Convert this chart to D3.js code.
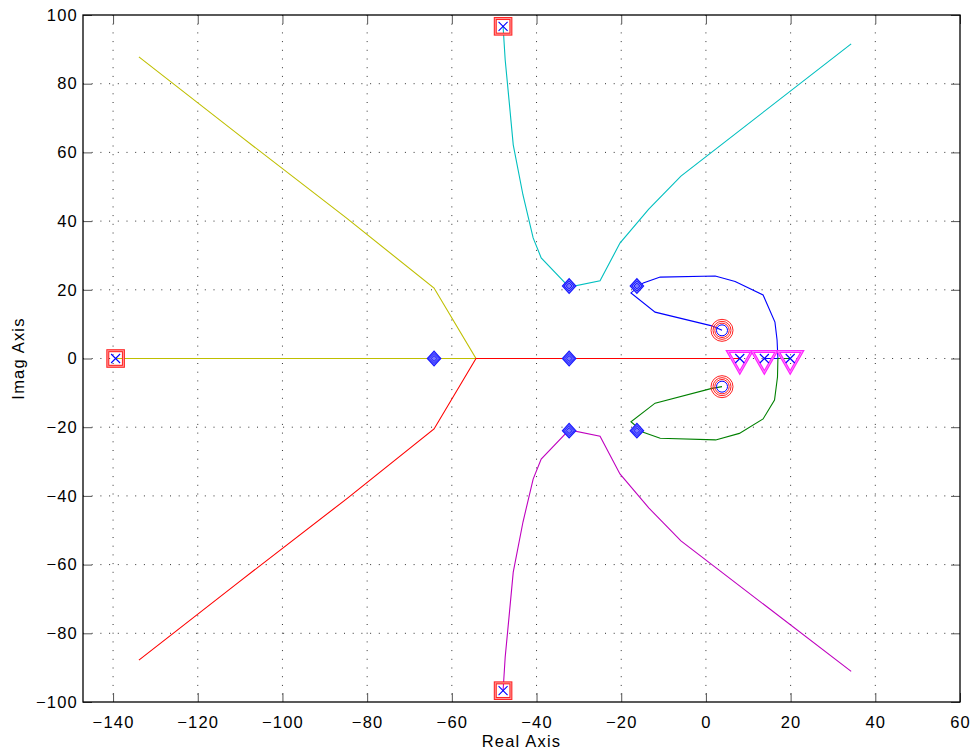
<!DOCTYPE html>
<html>
<head>
<meta charset="utf-8">
<script src="https://cdn.jsdelivr.net/npm/d3@7"></script>
<style>
    body { margin: 0; background: #fff; }
    .tick-label { font-family: "Liberation Sans", Arial, sans-serif; font-size: 16.5px; letter-spacing: 1.2px; fill: #000; }
    .axis-title { font-family: "Liberation Sans", Arial, sans-serif; font-size: 16.5px; letter-spacing: 1.2px; fill: #000; }
</style>
</head>
<body>
<div id="chart"></div>
<script>
// tick values
var xTicks = [-140, -120, -100, -80, -60, -40, -20, 0, 20, 40, 60];
var yTicks = [-100, -80, -60, -40, -20, 0, 20, 40, 60, 80, 100];

// open-loop poles and zeros
var poles = [[-139.4, 0], [-47.9, 96.7], [-47.9, -96.7], [8.0, 0], [13.8, 0], [19.9, 0]];
var zeros = [[3.8, 8.2], [3.8, -8.2]];
// highlighted poles (red squares / magenta triangles)
var squarePoles = [[-139.4, 0], [-47.9, 96.7], [-47.9, -96.7]];
var trianglePoles = [[8.0, 0], [13.8, 0], [19.9, 0]];
// closed-loop poles for selected gain
var closedPoles = [[-64.2, 0], [-32.3, 0], [-32.3, 21.1], [-32.3, -21.0], [-16.3, 21.1], [-16.3, -21.0]];

// locus branches
var branchYellow = [[-139.4, 0], [-54.3, 0], [-64.2, 20.5], [-85, 41], [-110, 64.8], [-133.9, 87.8]];
var branchRed = [[8.0, 0], [-54.3, 0], [-64.2, -20.5], [-85, -41], [-110, -64.8], [-133.9, -87.8]];
var branchCyan = [[-47.9, 96.7], [-47.4, 86.9], [-46.5, 75.3], [-45.5, 62.2], [-43.2, 47.6], [-40.8, 35.1],
    [-38.9, 29.3], [-32.3, 20.8], [-25.0, 22.6], [-20.3, 33.6], [-13.5, 43.5], [-5.9, 53.1], [34.3, 91.6]];
var branchMagenta = [[-47.9, -96.7], [-47.4, -86.9], [-46.5, -75.3], [-45.5, -62.2], [-43.2, -47.6], [-40.8, -35.1],
    [-38.9, -29.3], [-32.3, -20.8], [-25.0, -22.6], [-20.3, -33.6], [-13.5, -43.5], [-5.9, -53.1], [34.3, -91.1]];
var branchBlue = [[13.8, 0], [17.0, 0], [16.8, 5.4], [16.3, 10.6], [13.5, 18.5], [6.9, 22.4], [2.2, 24.0],
    [-10.8, 23.7], [-14.8, 22.0], [-17.7, 19.1], [-12.0, 13.5], [1.4, 9.5], [3.8, 8.2]];
var branchGreen = [[19.9, 0], [17.0, 0], [16.9, -5.4], [16.2, -12.1], [13.5, -17.6], [7.9, -21.8], [2.3, -23.7],
    [-10.8, -23.2], [-14.8, -21.5], [-17.7, -18.4], [-12.0, -13.0], [1.4, -8.7], [3.8, -8.2]];

var branches = [
    {pts: branchYellow, color: "#bfbf00"},
    {pts: branchRed, color: "#ff0000"},
    {pts: branchCyan, color: "#00bfbf"},
    {pts: branchMagenta, color: "#bf00bf"},
    {pts: branchBlue, color: "#0000ff"},
    {pts: branchGreen, color: "#008000"}
];

var margin = {top: 15, right: 14, bottom: 54, left: 83},
    width = 974 - margin.left - margin.right,
    height = 756 - margin.top - margin.bottom;

var x = d3.scaleLinear().domain([-147.1, 60]).range([0, width]);
var y = d3.scaleLinear().domain([-100, 100]).range([height, 0]);

var svg = d3.select("#chart").append("svg")
    .attr("width", 974)
    .attr("height", 756)
    .append("g")
    .attr("transform", "translate(" + margin.left + "," + margin.top + ")");

var fmt = function(d) { return d < 0 ? "\u2212" + Math.abs(d) : "" + d; };

// grid
svg.append("g").selectAll("line")
    .data(xTicks.filter(function(d) { return d > -147.1 && d < 60; }))
    .enter().append("line")
    .attr("x1", function(d) { return x(d); })
    .attr("x2", function(d) { return x(d); })
    .attr("y1", 0).attr("y2", height)
    .attr("stroke", "#333").attr("stroke-width", 1)
    .attr("stroke-dasharray", "1,7.7");

svg.append("g").selectAll("line")
    .data(yTicks.filter(function(d) { return d > -100 && d < 100; }))
    .enter().append("line")
    .attr("x1", 0).attr("x2", width)
    .attr("y1", function(d) { return y(d); })
    .attr("y2", function(d) { return y(d); })
    .attr("stroke", "#333").attr("stroke-width", 1)
    .attr("stroke-dasharray", "1,7.7");

// axes (ticks inward, box on)
var tickLen = 9;
var xAxisB = d3.axisBottom(x).tickValues(xTicks).tickSizeInner(-tickLen).tickSizeOuter(0).tickPadding(14).tickFormat(fmt);
var xAxisT = d3.axisTop(x).tickValues(xTicks).tickSizeInner(-tickLen).tickSizeOuter(0).tickFormat("");
var yAxisL = d3.axisLeft(y).tickValues(yTicks).tickSizeInner(-tickLen).tickSizeOuter(0).tickPadding(5).tickFormat(fmt);
var yAxisR = d3.axisRight(y).tickValues(yTicks).tickSizeInner(-tickLen).tickSizeOuter(0).tickFormat("");

function styleAxis(g) {
    g.select(".domain").remove();
    g.selectAll(".tick line").attr("stroke", "#555");
    g.selectAll(".tick text").attr("class", "tick-label").attr("font-family", null).attr("font-size", null);
}

svg.append("g").attr("transform", "translate(0," + height + ")").call(xAxisB).call(styleAxis);
svg.append("g").call(xAxisT).call(styleAxis);
svg.append("g").call(yAxisL).call(styleAxis);
svg.append("g").attr("transform", "translate(" + width + ",0)").call(yAxisR).call(styleAxis);

// locus lines
var line = d3.line()
    .x(function(d) { return x(d[0]); })
    .y(function(d) { return y(d[1]); });

svg.append("g").selectAll("path")
    .data(branches)
    .enter().append("path")
    .attr("d", function(d) { return line(d.pts); })
    .attr("fill", "none")
    .attr("stroke", function(d) { return d.color; })
    .attr("stroke-width", 1.1);

// red squares around poles
var sq = svg.append("g").selectAll("g")
    .data(squarePoles)
    .enter().append("g")
    .attr("transform", function(d) { return "translate(" + x(d[0]) + "," + y(d[1]) + ")"; });
sq.append("rect").attr("x", -7.8).attr("y", -7.8).attr("width", 15.6).attr("height", 15.6)
    .attr("fill", "none").attr("stroke", "#ff2020").attr("stroke-width", 3);
sq.append("rect").attr("x", -7.8).attr("y", -7.8).attr("width", 15.6).attr("height", 15.6)
    .attr("fill", "none").attr("stroke", "#ff9a9a").attr("stroke-width", 1);

// magenta inverted triangles
var tri = svg.append("g").selectAll("g")
    .data(trianglePoles)
    .enter().append("g")
    .attr("transform", function(d) { return "translate(" + x(d[0]) + "," + y(d[1]) + ")"; });
tri.append("path").attr("d", "M-12,-7L12,-7L0,14Z")
    .attr("fill", "none").attr("stroke", "#ff20ff").attr("stroke-width", 3).attr("stroke-linejoin", "miter");
tri.append("path").attr("d", "M-12,-7L12,-7L0,14Z")
    .attr("fill", "none").attr("stroke", "#ff9aff").attr("stroke-width", 0.8);

// red rings around zeros
var zr = svg.append("g").selectAll("g")
    .data(zeros)
    .enter().append("g")
    .attr("transform", function(d) { return "translate(" + x(d[0]) + "," + y(d[1]) + ")"; });
[11, 9, 7.2].forEach(function(r) {
    zr.append("circle").attr("r", r).attr("fill", "none").attr("stroke", "#ff2020").attr("stroke-width", 1);
});
zr.append("circle").attr("r", 5.5).attr("fill", "none").attr("stroke", "#0000ff").attr("stroke-width", 1);

// blue x for poles
svg.append("g").selectAll("path")
    .data(poles)
    .enter().append("path")
    .attr("transform", function(d) { return "translate(" + x(d[0]) + "," + y(d[1]) + ")"; })
    .attr("d", "M-4.5,-4.5L4.5,4.5M-4.5,4.5L4.5,-4.5")
    .attr("stroke", "#0000ff").attr("stroke-width", 1.1);

// closed-loop poles (blue diamonds)
var dm = svg.append("g").selectAll("g")
    .data(closedPoles)
    .enter().append("g")
    .attr("transform", function(d) { return "translate(" + x(d[0]) + "," + y(d[1]) + ")"; });
dm.append("path").attr("d", "M0,-7.3L6.7,0L0,7.3L-6.7,0Z").attr("fill", "#7777ff").attr("stroke", "#1a1aff").attr("stroke-width", 1.2);
[5, 2.9].forEach(function(r) {
    dm.append("path").attr("d", "M0," + (-r) + "L" + r + ",0L0," + r + "L" + (-r) + ",0Z")
        .attr("fill", "none").attr("stroke", "#1a1aff").attr("stroke-width", 1);
});

// box
svg.append("rect").attr("width", width).attr("height", height)
    .attr("fill", "none").attr("stroke", "#000").attr("stroke-width", 1.3);

// axis titles
svg.append("text").attr("class", "axis-title")
    .attr("x", width / 2).attr("y", height + 45)
    .attr("text-anchor", "middle")
    .text("Real Axis");

svg.append("text").attr("class", "axis-title")
    .attr("transform", "translate(" + (-59) + "," + (height / 2) + ") rotate(-90)")
    .attr("text-anchor", "middle")
    .text("Imag Axis");
</script>
</body>
</html>
